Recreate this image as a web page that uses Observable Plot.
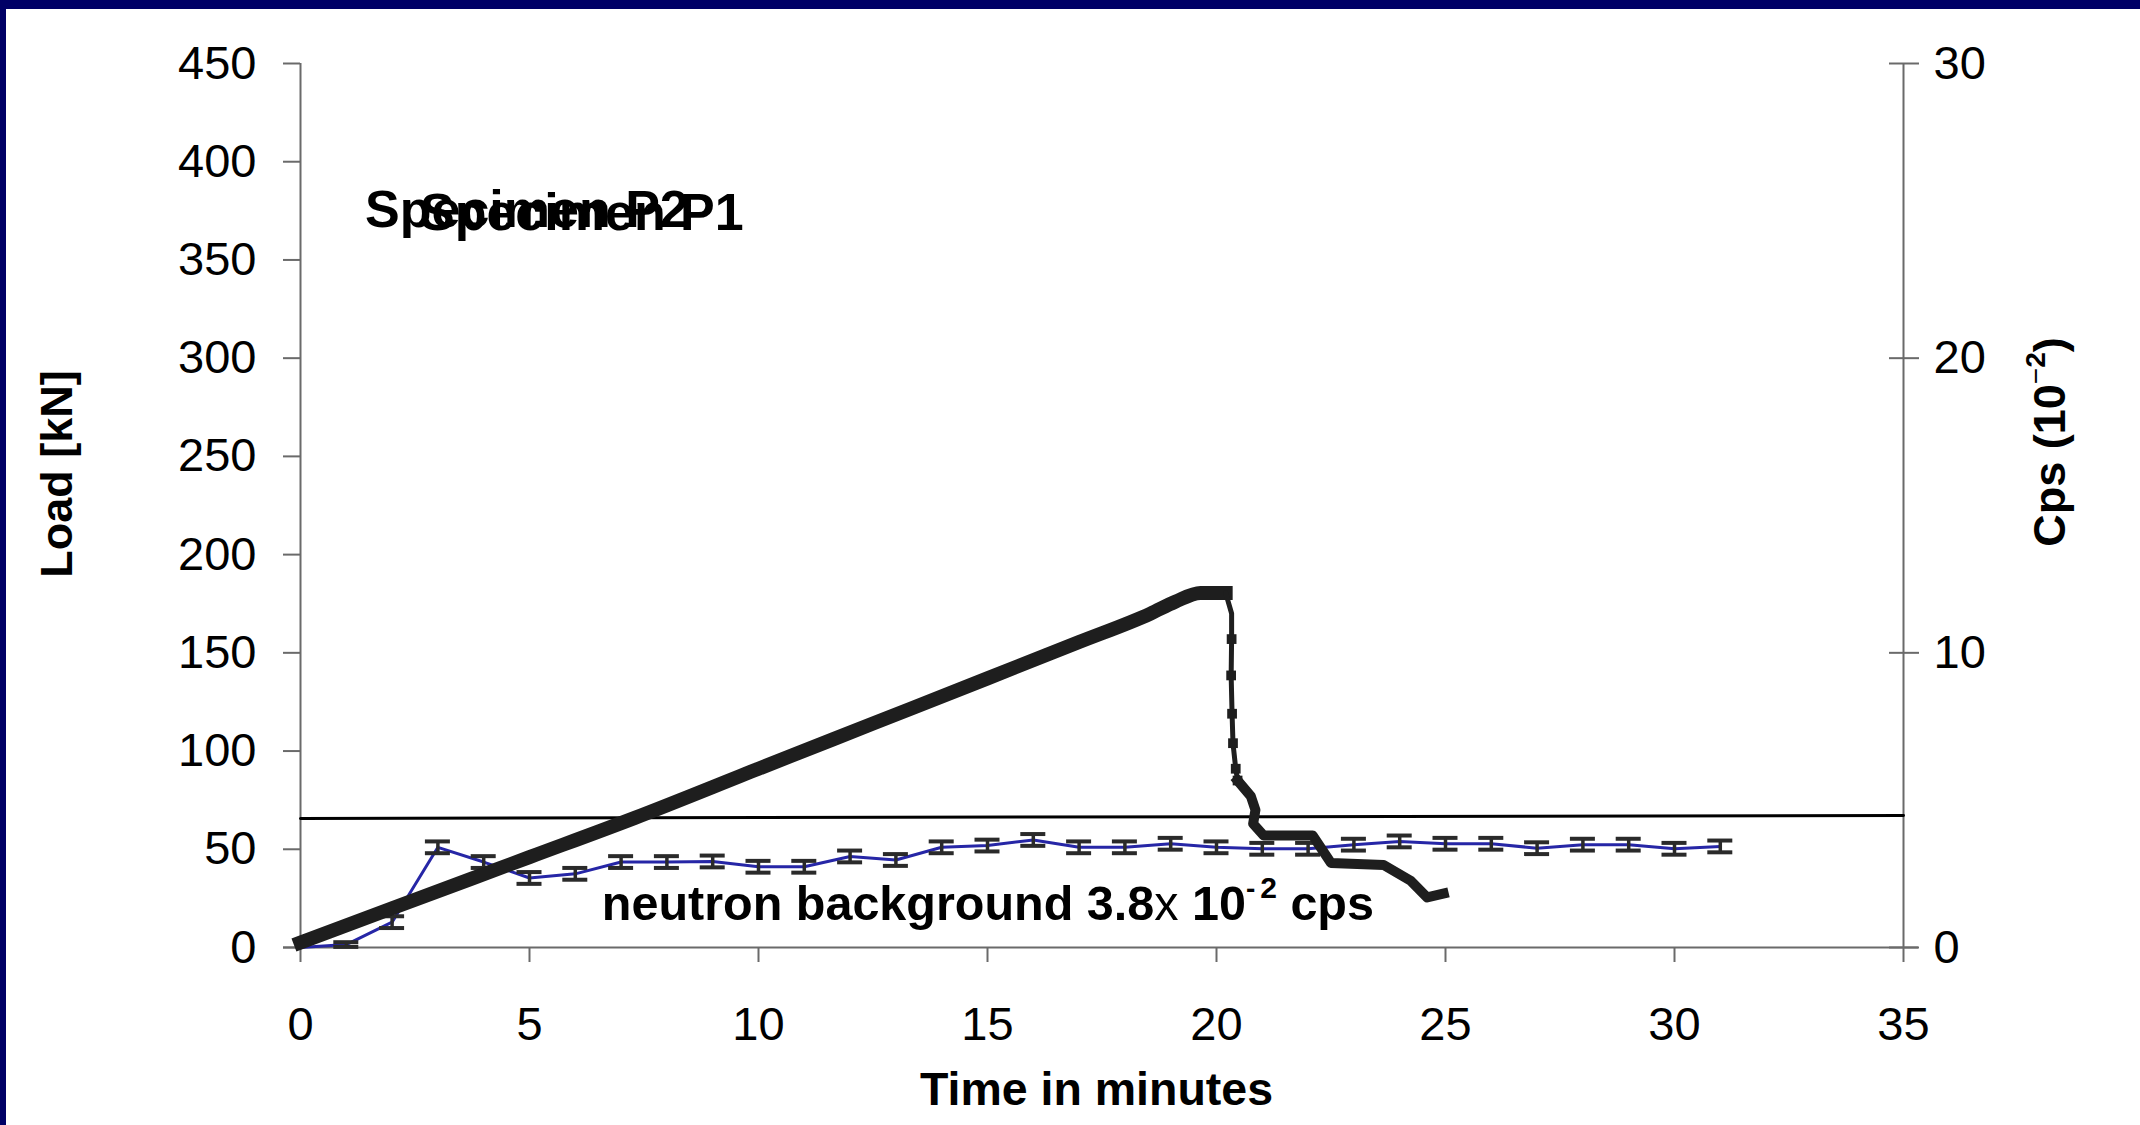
<!DOCTYPE html>
<html>
<head>
<meta charset="utf-8">
<script src="https://cdn.jsdelivr.net/npm/d3@7"></script>
<script src="https://cdn.jsdelivr.net/npm/@observablehq/plot@0.6"></script>
<style>
  html, body { margin: 0; padding: 0; background: #fff; }
  #wrap { position: relative; width: 2140px; height: 1125px; overflow: hidden; background: #fff; }
  .edge { position: absolute; background: #000066; }
  #chart svg { display: block; }
</style>
</head>
<body>
<div id="wrap">
  <div id="chart"></div>
  <div class="edge" style="left:0;top:0;width:2140px;height:9px"></div>
  <div class="edge" style="left:0;top:0;width:6px;height:1125px"></div>
</div>
<script>
// Load ramp up to failure (time in minutes, load in kN)
const rampTime = [0, 2, 5, 7.3, 10, 12.5, 15, 17, 18.56, 19.1, 19.65, 20.2];
const rampLoad = [2.5, 20, 46, 66, 91, 114, 137, 155.5, 170, 176, 180.5, 180.5];

// Sudden drop at failure, sampled points shown as square markers
const dropTime = [20.2, 20.33, 20.33, 20.32, 20.34, 20.36, 20.42, 20.46];
const dropLoad = [180.5, 170, 157, 138.5, 119, 104, 91, 85];

// Residual load after failure
const residualTime = [20.46, 20.75, 20.85, 20.8, 21.03, 22.1, 22.5, 23.65, 24.24, 24.6, 24.96];
const residualLoad = [85, 77, 70, 63, 57, 57, 43, 42, 34, 25.5, 27.5];

// Neutron count rate, cps (x10^-2), one reading per minute with its uncertainty
const cpsTime = [0, 1, 2, 3, 4, 5, 6, 7, 8, 9, 10, 11, 12, 13, 14, 15, 16, 17, 18, 19, 20, 21, 22, 23, 24, 25, 26, 27, 28, 29, 30, 31];
const cpsValue = [0, 0.1, 0.86, 3.40, 2.90, 2.36, 2.50, 2.90, 2.90, 2.92, 2.74, 2.74, 3.09, 2.97, 3.40, 3.46, 3.65, 3.40, 3.40, 3.52, 3.40, 3.35, 3.35, 3.49, 3.60, 3.52, 3.52, 3.37, 3.49, 3.49, 3.35, 3.43];
const cpsError = [0, 0.08, 0.2, 0.2, 0.2, 0.2, 0.2, 0.2, 0.2, 0.2, 0.2, 0.2, 0.2, 0.2, 0.2, 0.2, 0.2, 0.2, 0.2, 0.2, 0.2, 0.2, 0.2, 0.2, 0.2, 0.2, 0.2, 0.2, 0.2, 0.2, 0.2, 0.2];

// Reference level line, cps (x10^-2)
const levelTime = [0, 35];
const levelCps = [4.38, 4.48];

// Axis ticks
const timeTicks = [0, 5, 10, 15, 20, 25, 30, 35];
const loadTicks = [0, 50, 100, 150, 200, 250, 300, 350, 400, 450];
const cpsTicks = [0, 10, 20, 30];

// Curve labels
const specimenLabels = ["Specimen P2", "Specimen P1"];

// The right axis (0–30) shares the frame with the load axis (0–450)
const CPS_TO_LOAD = 450 / 30;

const zip = (xs, ys) => xs.map((x, i) => ({x, y: ys[i]}));
const ramp = zip(rampTime, rampLoad);
const drop = zip(dropTime, dropLoad);
const residual = zip(residualTime, residualLoad);
const level = zip(levelTime, levelCps.map(v => v * CPS_TO_LOAD));
const counts = cpsTime.map((t, i) => ({
  t,
  y: cpsValue[i] * CPS_TO_LOAD,
  lo: (cpsValue[i] - cpsError[i]) * CPS_TO_LOAD,
  hi: (cpsValue[i] + cpsError[i]) * CPS_TO_LOAD,
  err: cpsError[i]
}));
const withErr = counts.filter(d => d.err > 0);

const FONT = "'Liberation Sans', Arial, Helvetica, sans-serif";
const AXIS = "#6a6a6a";
const INK = "#1e1e1e";
const BAR = "#2a2a2a";

const plot = Plot.plot({
  width: 2140,
  height: 1125,
  marginLeft: 300,
  marginRight: 237,
  marginTop: 63,
  marginBottom: 178,
  style: {background: "transparent", fontFamily: FONT, color: "#000", overflow: "visible"},
  x: {domain: [0, 35]},
  y: {domain: [0, 450]},
  marks: [
    // axis lines
    Plot.ruleX([0], {stroke: AXIS, strokeWidth: 2}),
    Plot.ruleX([35], {stroke: AXIS, strokeWidth: 2}),
    Plot.ruleY([0], {stroke: AXIS, strokeWidth: 2, insetLeft: -17, insetRight: -15}),
    // left axis: load
    Plot.axisY(loadTicks, {anchor: "left", tickSize: 17, tickPadding: 27, fontSize: 47, stroke: AXIS, strokeWidth: 2, fill: "#000", label: null}),
    // right axis: cps, ticks straddle the axis line
    Plot.axisY(cpsTicks.map(v => v * CPS_TO_LOAD), {anchor: "right", tickSize: 30, dx: -15, tickPadding: 15, tickFormat: d => String(d / CPS_TO_LOAD), fontSize: 47, stroke: AXIS, strokeWidth: 2, fill: "#000", label: null}),
    // bottom axis: time
    Plot.axisX(timeTicks, {anchor: "bottom", tickSize: 15, tickPadding: 44, fontSize: 47, stroke: AXIS, strokeWidth: 2, fill: "#000", label: null}),

    // reference level
    Plot.line(level, {x: "x", y: "y", stroke: "#000", strokeWidth: 3}),

    // neutron counts with error bars
    Plot.line(counts, {x: "t", y: "y", stroke: "#2626a6", strokeWidth: 3}),
    Plot.ruleX(withErr, {x: "t", y1: "lo", y2: "hi", stroke: BAR, strokeWidth: 3.5}),
    Plot.ruleY(withErr, {y: "lo", x1: "t", x2: "t", insetLeft: -12.5, insetRight: -12.5, stroke: BAR, strokeWidth: 4}),
    Plot.ruleY(withErr, {y: "hi", x1: "t", x2: "t", insetLeft: -12.5, insetRight: -12.5, stroke: BAR, strokeWidth: 4}),

    // load curve
    Plot.line(ramp, {x: "x", y: "y", curve: "monotone-x", stroke: INK, strokeWidth: 14, strokeLinejoin: "round", strokeLinecap: "square"}),
    Plot.line(drop, {x: "x", y: "y", stroke: INK, strokeWidth: 5, strokeLinejoin: "round"}),
    Plot.dot(drop.slice(2), {x: "x", y: "y", symbol: "square", r: 5.5, fill: INK, stroke: null}),
    Plot.line(residual, {x: "x", y: "y", stroke: INK, strokeWidth: 10, strokeLinejoin: "round", strokeLinecap: "square"})
  ]
});

document.getElementById("chart").appendChild(plot);

// Text annotations, titles and labels with superscripts
const svg = d3.select(plot);
const sx = plot.scale("x"), sy = plot.scale("y");
const g = svg.append("g").attr("font-family", FONT).attr("fill", "#000").attr("text-anchor", "start");

// curve labels
g.append("text").attr("x", sx.apply(1.42)).attr("y", sy.apply(366.5))
  .attr("font-size", 52).attr("font-weight", "bold").text(specimenLabels[0]);
g.append("text").attr("x", sx.apply(2.62)).attr("y", sy.apply(365))
  .attr("font-size", 52).attr("font-weight", "bold").text(specimenLabels[1]);

// background note
const note = g.append("text").attr("x", sx.apply(6.59)).attr("y", sy.apply(13.7))
  .attr("font-size", 48.5).attr("font-weight", "bold");
note.append("tspan").text("neutron background 3.8");
note.append("tspan").attr("font-weight", "normal").text("x");
note.append("tspan").text(" 10");
note.append("tspan").attr("font-size", 28).attr("dy", -22).text("-");
note.append("tspan").attr("font-size", 30).attr("dx", 5).text("2");
note.append("tspan").attr("dy", 22).text(" cps");

// x axis title
g.append("text").attr("x", (sx.apply(0) + sx.apply(35)) / 2 - 5).attr("y", 1105)
  .attr("text-anchor", "middle").attr("font-size", 46.5).attr("font-weight", "bold")
  .text("Time in minutes");

// left axis title
g.append("text").attr("transform", "translate(72,474) rotate(-90)")
  .attr("text-anchor", "middle").attr("font-size", 45).attr("font-weight", "bold")
  .text("Load [kN]");

// right axis title
const rt = g.append("text").attr("transform", "translate(2065,442) rotate(-90)")
  .attr("text-anchor", "middle").attr("font-size", 45).attr("font-weight", "bold");
rt.append("tspan").text("Cps (10");
rt.append("tspan").attr("font-size", 28).attr("font-weight", "normal").attr("dy", -20).text("\u2212");
rt.append("tspan").attr("font-size", 28).attr("dy", 0).text("2");
rt.append("tspan").attr("dy", 20).text(")");
</script>
</body>
</html>
